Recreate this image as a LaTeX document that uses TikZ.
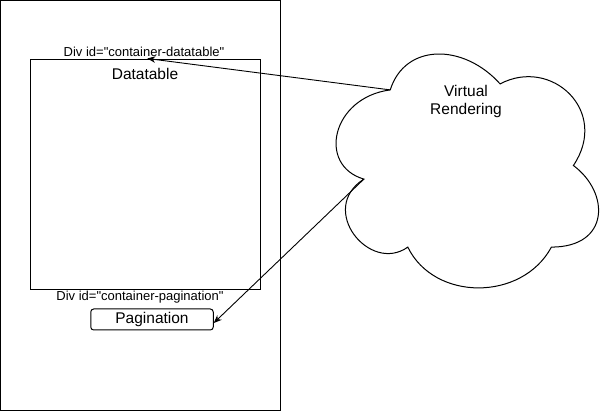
\documentclass[tikz,border=0pt]{standalone}
\usepackage{fontspec}
\setmainfont{Liberation Sans}[Ligatures=TeXOff]
\usetikzlibrary{arrows.meta,calc}
\tikzset{
  boxshape/.style={draw=black, line width=1pt, inner sep=0pt, fill=none},
  smalllbl/.style={inner sep=0pt, anchor=base, font=\fontsize{13}{15}\selectfont},
  biglbl/.style={inner sep=0pt, anchor=base, font=\fontsize{15.5}{17.5}\selectfont},
  arr/.style={draw=black, line width=0.9pt, -{Stealth[length=8pt,width=6.5pt,inset=2.5pt]}},
  cloudline/.style={draw=black, line width=1pt, line join=miter}
}
\begin{document}
\begin{tikzpicture}[x=1pt,y=-1pt]
\useasboundingbox[fill=white] (0,0) rectangle (610,411);
% outer page container
\node[boxshape, minimum width=279.5pt, minimum height=409.5pt] (page) at (140.25,205.25) {};
% datatable container
\node[boxshape, minimum width=230pt, minimum height=230pt] (dt) at (145,175) {};
\node[smalllbl] (dtlbl) at (144,56.5) {Div id="container-datatable"};
\node[biglbl] (dttext) at (145,80) {Datatable};
% pagination
\node[smalllbl] (pglbl) at (140,301) {Div id="container-pagination"};
\node[boxshape, rounded corners=3pt, minimum width=122.5pt, minimum height=21pt, biglbl, anchor=center] (pg) at (152,319.5) {Pagination};
% cloud
\path[cloudline, fill=white] (390.25,89.9)
  .. controls (331.65,97.5) and (317,165.5) .. (363.9,179.1)
  .. controls (317,209.0) and (369.7,274.3) .. (407.8,247.1)
  .. controls (434.2,301.5) and (522.1,301.5) .. (551.4,247.1)
  .. controls (610,247.1) and (610,192.7) .. (573.4,165.5)
  .. controls (610,111.1) and (551.4,56.7) .. (500.1,83.9)
  .. controls (463.5,43.1) and (404.9,43.1) .. (390.25,89.9) -- cycle;
\coordinate (c1) at (390.25,89.9);
\coordinate (c2) at (363.9,179.1);
\node[biglbl, anchor=center, align=center] (vr) at (466,101.5) {Virtual\\Rendering};
% connectors
\draw[arr] (c1) -- ([xshift=2.3pt,yshift=1pt]dt.north);
\draw[arr] (c2) -- ([xshift=0pt,yshift=-3.5pt]pg.east);
\end{tikzpicture}
\end{document}
